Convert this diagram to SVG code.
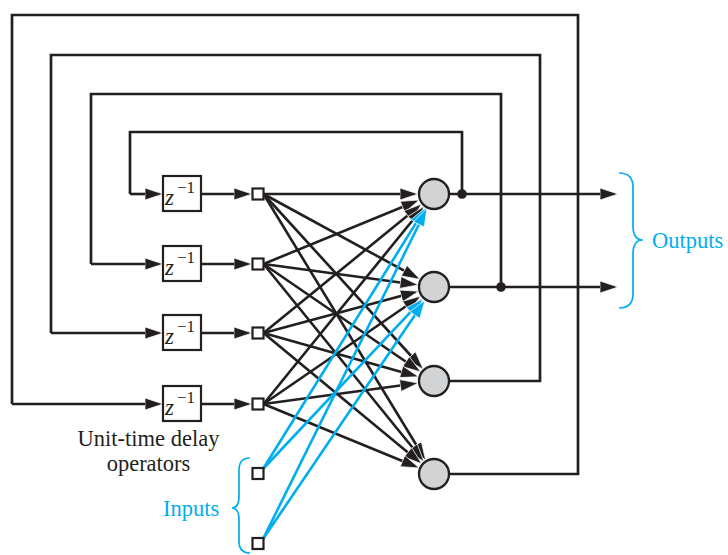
<svg xmlns="http://www.w3.org/2000/svg" width="728" height="555" viewBox="0 0 728 555">
<style>
.k{stroke:#231f20;stroke-width:2.7;fill:none}
.ka{stroke:#231f20;stroke-width:2.6;fill:none;marker-end:url(#ak)}
.ba{stroke:#00aeef;stroke-width:2.6;fill:none;marker-end:url(#ab)}
.neuron{fill:#d1d3d4;stroke:#231f20;stroke-width:2.3}
.sq{fill:#fff;stroke:#231f20;stroke-width:2.2}
.box{fill:#fff;stroke:#231f20;stroke-width:2.2}
.txt{font-family:"Liberation Serif",serif;font-size:22.5px;fill:#231f20}
.blue{font-family:"Liberation Serif",serif;font-size:22.5px;fill:#00aeef}
.z{font-family:"Liberation Serif",serif;font-style:italic;font-size:23px;fill:#231f20}
.sup{font-family:"Liberation Serif",serif;font-size:17px;fill:#231f20}
.brace{stroke:#00aeef;stroke-width:1.7;fill:none}
</style>
<defs>
<marker id="ak" markerUnits="userSpaceOnUse" markerWidth="19" markerHeight="13" viewBox="-0.5 -0.5 19 13" refX="15" refY="6" orient="auto">
<path d="M0,0 L18,6 L0,12 z" fill="#231f20" stroke="#fff" stroke-width="0.7"/>
</marker>
<marker id="ab" markerUnits="userSpaceOnUse" markerWidth="19" markerHeight="13" viewBox="-0.5 -0.5 19 13" refX="15" refY="6" orient="auto">
<path d="M0,0 L18,6 L0,12 z" fill="#00aeef" stroke="#fff" stroke-width="0.7"/>
</marker>
</defs>
<rect width="728" height="555" fill="#fff"/>
<g id="connectors">
<path class="k" d="M462,194 V132 H130 V194"/>
<path class="k" d="M501,287 V94 H91 V264"/>
<path class="k" d="M449,381 H540 V55 H51 V333"/>
<path class="k" d="M449,474 H578 V15 H12 V404"/>
<line class="ka" x1="130" y1="194" x2="160" y2="194"/>
<line class="ka" x1="91" y1="264" x2="160" y2="264"/>
<line class="ka" x1="51" y1="333" x2="160" y2="333"/>
<line class="ka" x1="12" y1="404" x2="160" y2="404"/>
<line class="ka" x1="201" y1="194" x2="249" y2="194"/>
<line class="ka" x1="201" y1="264" x2="249" y2="264"/>
<line class="ka" x1="201" y1="333" x2="249" y2="333"/>
<line class="ka" x1="201" y1="404" x2="249" y2="404"/>
<line class="ka" x1="449" y1="194" x2="615" y2="194"/>
<line class="ka" x1="449" y1="287" x2="615" y2="287"/>
<line class="ka" x1="263.5" y1="194" x2="415" y2="194"/>
<line class="ka" x1="263.5" y1="194" x2="417.3" y2="277.9"/>
<line class="ka" x1="263.5" y1="194" x2="421.2" y2="367"/>
<line class="ka" x1="263.5" y1="194" x2="424.1" y2="457.8"/>
<line class="ka" x1="263.5" y1="264" x2="416.4" y2="201.2"/>
<line class="ka" x1="263.5" y1="264" x2="415.2" y2="284.5"/>
<line class="ka" x1="263.5" y1="264" x2="418.3" y2="370.2"/>
<line class="ka" x1="263.5" y1="264" x2="422" y2="459.3"/>
<line class="ka" x1="263.5" y1="333" x2="419.3" y2="206"/>
<line class="ka" x1="263.5" y1="333" x2="415.7" y2="292"/>
<line class="ka" x1="263.5" y1="333" x2="415.7" y2="375.9"/>
<line class="ka" x1="263.5" y1="333" x2="419.4" y2="461.9"/>
<line class="ka" x1="263.5" y1="404" x2="422" y2="208.7"/>
<line class="ka" x1="263.5" y1="404" x2="418.3" y2="297.8"/>
<line class="ka" x1="263.5" y1="404" x2="415.2" y2="383.5"/>
<line class="ka" x1="263.5" y1="404" x2="416.4" y2="466.8"/>
<line class="ba" x1="263" y1="469" x2="424" y2="210.1"/>
<line class="ba" x1="263" y1="469" x2="421" y2="300.8"/>
<line class="ba" x1="263" y1="539" x2="425.6" y2="211"/>
<line class="ba" x1="263" y1="539" x2="423.3" y2="302.7"/>
<circle cx="462" cy="194" r="4.8" fill="#231f20"/>
<circle cx="501" cy="287" r="4.8" fill="#231f20"/>
</g>
<g id="d1"><rect class="box" x="163" y="176" width="38" height="35"/><text class="z" x="165" y="205">z</text><text class="sup" x="177" y="193">−1</text></g>
<g id="d2"><rect class="box" x="163" y="246" width="38" height="35"/><text class="z" x="165" y="275">z</text><text class="sup" x="177" y="263">−1</text></g>
<g id="d3"><rect class="box" x="163" y="315" width="38" height="35"/><text class="z" x="165" y="344">z</text><text class="sup" x="177" y="332">−1</text></g>
<g id="d4"><rect class="box" x="163" y="386" width="38" height="35"/><text class="z" x="165" y="415">z</text><text class="sup" x="177" y="403">−1</text></g>
<g id="h1"><rect class="sq" x="252.5" y="188.5" width="11" height="11"/></g>
<g id="h2"><rect class="sq" x="252.5" y="258.5" width="11" height="11"/></g>
<g id="h3"><rect class="sq" x="252.5" y="327.5" width="11" height="11"/></g>
<g id="h4"><rect class="sq" x="252.5" y="398.5" width="11" height="11"/></g>
<g id="i1"><rect class="sq" x="252.5" y="468" width="11" height="11"/></g>
<g id="i2"><rect class="sq" x="252.5" y="538" width="11" height="11"/></g>
<g id="n1"><circle class="neuron" cx="434" cy="194" r="15"/></g>
<g id="n2"><circle class="neuron" cx="434" cy="287" r="15"/></g>
<g id="n3"><circle class="neuron" cx="434" cy="381" r="15"/></g>
<g id="n4"><circle class="neuron" cx="434" cy="474" r="15"/></g>
<g id="outputs-label">
<path class="brace" d="M619,173 Q633,173 633,187 V226 Q633,240 643,240 Q633,240 633,254 V294 Q633,308 619,308"/>
<text class="blue" x="652" y="248">Outputs</text>
</g>
<g id="inputs-label">
<path class="brace" d="M250,458 Q239,458 239,470 V496 Q239,508 232,508 Q239,508 239,520 V541 Q239,553 250,553"/>
<text class="blue" x="163" y="516">Inputs</text>
</g>
<g id="delay-label">
<text class="txt" x="148.5" y="446" text-anchor="middle">Unit-time delay</text>
<text class="txt" x="148.5" y="471" text-anchor="middle">operators</text>
</g>
</svg>
